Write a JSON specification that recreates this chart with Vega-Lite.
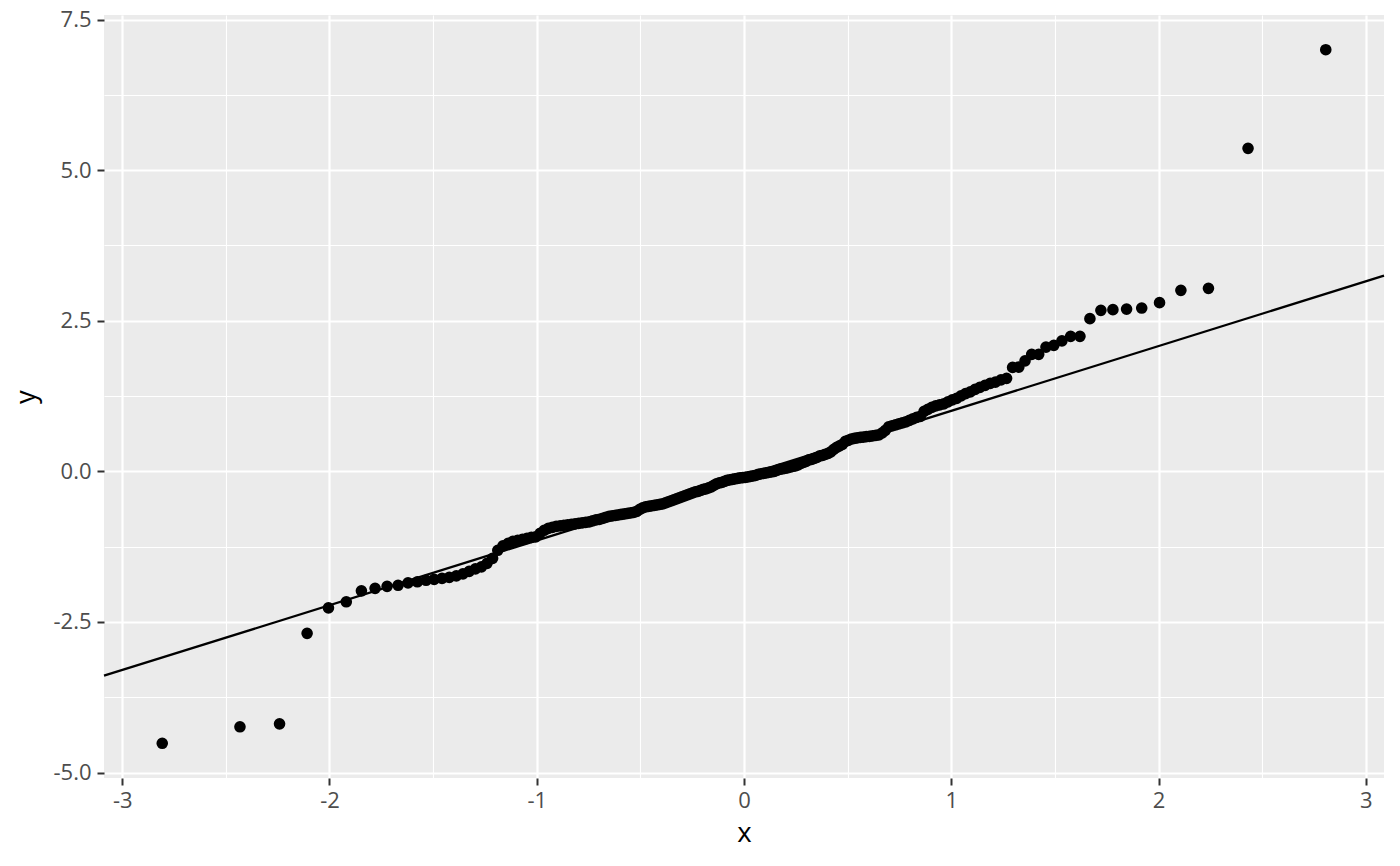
{
  "$schema": "https://vega.github.io/schema/vega-lite/v6.json",
  "width": 1280,
  "height": 763,
  "autosize": {"type": "none"},
  "padding": {"left": 104, "top": 15, "right": 16, "bottom": 88},
  "background": "white",
  "config": {
    "view": {"fill": "#EBEBEB", "stroke": null},
    "axis": {
      "labelFont": "Open Sans",
      "titleFont": "Open Sans",
      "labelFontSize": 22,
      "titleFontSize": 27.5,
      "titleFontWeight": "normal",
      "labelColor": "#4D4D4D",
      "titleColor": "#000000",
      "tickColor": "#333333",
      "tickSize": 7,
      "tickWidth": 2,
      "domain": false,
      "gridColor": "#FFFFFF"
    }
  },
  "datasets": {
    "qq": [
      {"x": -2.807, "y": -4.515}, {"x": -2.432, "y": -4.241}, {"x": -2.241, "y": -4.192}, {"x": -2.108, "y": -2.689},
      {"x": -2.005, "y": -2.266}, {"x": -1.919, "y": -2.166}, {"x": -1.846, "y": -1.984}, {"x": -1.780, "y": -1.942},
      {"x": -1.722, "y": -1.909}, {"x": -1.669, "y": -1.892}, {"x": -1.621, "y": -1.851}, {"x": -1.576, "y": -1.834},
      {"x": -1.534, "y": -1.809}, {"x": -1.495, "y": -1.793}, {"x": -1.457, "y": -1.776}, {"x": -1.422, "y": -1.760},
      {"x": -1.388, "y": -1.735}, {"x": -1.356, "y": -1.702}, {"x": -1.326, "y": -1.660}, {"x": -1.296, "y": -1.619},
      {"x": -1.267, "y": -1.585}, {"x": -1.240, "y": -1.527}, {"x": -1.213, "y": -1.444}, {"x": -1.188, "y": -1.311},
      {"x": -1.163, "y": -1.237}, {"x": -1.138, "y": -1.195}, {"x": -1.115, "y": -1.162}, {"x": -1.092, "y": -1.145},
      {"x": -1.069, "y": -1.129}, {"x": -1.047, "y": -1.112}, {"x": -1.026, "y": -1.096}, {"x": -1.005, "y": -1.087},
      {"x": -0.984, "y": -1.029}, {"x": -0.964, "y": -0.979}, {"x": -0.944, "y": -0.946}, {"x": -0.925, "y": -0.930},
      {"x": -0.906, "y": -0.913}, {"x": -0.887, "y": -0.905}, {"x": -0.869, "y": -0.896}, {"x": -0.851, "y": -0.888},
      {"x": -0.833, "y": -0.880}, {"x": -0.815, "y": -0.872}, {"x": -0.798, "y": -0.863}, {"x": -0.781, "y": -0.855},
      {"x": -0.764, "y": -0.847}, {"x": -0.747, "y": -0.838}, {"x": -0.731, "y": -0.822}, {"x": -0.714, "y": -0.805},
      {"x": -0.698, "y": -0.797}, {"x": -0.682, "y": -0.780}, {"x": -0.667, "y": -0.764}, {"x": -0.651, "y": -0.747},
      {"x": -0.636, "y": -0.739}, {"x": -0.620, "y": -0.730}, {"x": -0.605, "y": -0.722}, {"x": -0.590, "y": -0.714},
      {"x": -0.575, "y": -0.706}, {"x": -0.561, "y": -0.697}, {"x": -0.546, "y": -0.689}, {"x": -0.532, "y": -0.681},
      {"x": -0.517, "y": -0.664}, {"x": -0.503, "y": -0.631}, {"x": -0.489, "y": -0.606}, {"x": -0.475, "y": -0.589},
      {"x": -0.461, "y": -0.581}, {"x": -0.447, "y": -0.573}, {"x": -0.433, "y": -0.564}, {"x": -0.419, "y": -0.556},
      {"x": -0.406, "y": -0.548}, {"x": -0.392, "y": -0.540}, {"x": -0.379, "y": -0.523}, {"x": -0.366, "y": -0.506},
      {"x": -0.352, "y": -0.490}, {"x": -0.339, "y": -0.473}, {"x": -0.326, "y": -0.457}, {"x": -0.313, "y": -0.440},
      {"x": -0.300, "y": -0.423}, {"x": -0.287, "y": -0.407}, {"x": -0.274, "y": -0.390}, {"x": -0.261, "y": -0.374},
      {"x": -0.248, "y": -0.357}, {"x": -0.235, "y": -0.340}, {"x": -0.222, "y": -0.332}, {"x": -0.209, "y": -0.315},
      {"x": -0.196, "y": -0.299}, {"x": -0.184, "y": -0.291}, {"x": -0.171, "y": -0.274}, {"x": -0.158, "y": -0.257},
      {"x": -0.146, "y": -0.232}, {"x": -0.133, "y": -0.208}, {"x": -0.119, "y": -0.191}, {"x": -0.107, "y": -0.183},
      {"x": -0.094, "y": -0.166}, {"x": -0.082, "y": -0.149}, {"x": -0.069, "y": -0.141}, {"x": -0.056, "y": -0.133},
      {"x": -0.044, "y": -0.125}, {"x": -0.031, "y": -0.116}, {"x": -0.019, "y": -0.108}, {"x": -0.006, "y": -0.105},
      {"x": 0.006, "y": -0.100}, {"x": 0.019, "y": -0.091}, {"x": 0.031, "y": -0.083}, {"x": 0.044, "y": -0.075},
      {"x": 0.056, "y": -0.066}, {"x": 0.069, "y": -0.050}, {"x": 0.082, "y": -0.042}, {"x": 0.094, "y": -0.033},
      {"x": 0.107, "y": -0.025}, {"x": 0.119, "y": -0.017}, {"x": 0.133, "y": -0.008}, {"x": 0.146, "y": 0.000},
      {"x": 0.158, "y": 0.017}, {"x": 0.171, "y": 0.033}, {"x": 0.184, "y": 0.041}, {"x": 0.196, "y": 0.050},
      {"x": 0.209, "y": 0.058}, {"x": 0.222, "y": 0.070}, {"x": 0.235, "y": 0.083}, {"x": 0.248, "y": 0.091},
      {"x": 0.261, "y": 0.108}, {"x": 0.274, "y": 0.133}, {"x": 0.287, "y": 0.149}, {"x": 0.300, "y": 0.166},
      {"x": 0.313, "y": 0.191}, {"x": 0.326, "y": 0.199}, {"x": 0.339, "y": 0.216}, {"x": 0.352, "y": 0.232},
      {"x": 0.366, "y": 0.257}, {"x": 0.379, "y": 0.266}, {"x": 0.392, "y": 0.282}, {"x": 0.406, "y": 0.299},
      {"x": 0.419, "y": 0.324}, {"x": 0.433, "y": 0.365}, {"x": 0.447, "y": 0.398}, {"x": 0.461, "y": 0.423},
      {"x": 0.475, "y": 0.448}, {"x": 0.489, "y": 0.498}, {"x": 0.503, "y": 0.515}, {"x": 0.517, "y": 0.536},
      {"x": 0.532, "y": 0.548}, {"x": 0.546, "y": 0.556}, {"x": 0.561, "y": 0.564}, {"x": 0.575, "y": 0.569},
      {"x": 0.590, "y": 0.576}, {"x": 0.605, "y": 0.581}, {"x": 0.620, "y": 0.589}, {"x": 0.636, "y": 0.598},
      {"x": 0.651, "y": 0.606}, {"x": 0.667, "y": 0.639}, {"x": 0.682, "y": 0.681}, {"x": 0.698, "y": 0.739},
      {"x": 0.714, "y": 0.755}, {"x": 0.731, "y": 0.772}, {"x": 0.747, "y": 0.789}, {"x": 0.764, "y": 0.805},
      {"x": 0.781, "y": 0.822}, {"x": 0.798, "y": 0.847}, {"x": 0.815, "y": 0.872}, {"x": 0.833, "y": 0.896},
      {"x": 0.851, "y": 0.913}, {"x": 0.869, "y": 0.996}, {"x": 0.887, "y": 1.029}, {"x": 0.906, "y": 1.062},
      {"x": 0.925, "y": 1.087}, {"x": 0.944, "y": 1.104}, {"x": 0.964, "y": 1.121}, {"x": 0.984, "y": 1.154},
      {"x": 1.005, "y": 1.187}, {"x": 1.026, "y": 1.212}, {"x": 1.047, "y": 1.253}, {"x": 1.069, "y": 1.290},
      {"x": 1.092, "y": 1.320}, {"x": 1.115, "y": 1.361}, {"x": 1.138, "y": 1.394}, {"x": 1.163, "y": 1.428},
      {"x": 1.188, "y": 1.461}, {"x": 1.213, "y": 1.482}, {"x": 1.240, "y": 1.519}, {"x": 1.267, "y": 1.544},
      {"x": 1.296, "y": 1.726}, {"x": 1.326, "y": 1.731}, {"x": 1.356, "y": 1.834}, {"x": 1.388, "y": 1.942},
      {"x": 1.422, "y": 1.942}, {"x": 1.457, "y": 2.063}, {"x": 1.495, "y": 2.092}, {"x": 1.534, "y": 2.166},
      {"x": 1.576, "y": 2.241}, {"x": 1.621, "y": 2.241}, {"x": 1.669, "y": 2.535}, {"x": 1.722, "y": 2.673},
      {"x": 1.780, "y": 2.684}, {"x": 1.846, "y": 2.694}, {"x": 1.919, "y": 2.711}, {"x": 2.005, "y": 2.800},
      {"x": 2.108, "y": 3.005}, {"x": 2.241, "y": 3.038}, {"x": 2.432, "y": 5.362}, {"x": 2.807, "y": 7.000}
    ],
    "qqline": [
      {"x": -3.088, "y": -3.393},
      {"x": 3.088, "y": 3.249}
    ]
  },
  "resolve": {"axis": {"x": "independent", "y": "independent"}},
  "layer": [
    {
      "data": {"name": "qq"},
      "mark": {"type": "circle", "opacity": 0},
      "encoding": {
        "x": {
          "field": "x", "type": "quantitative",
          "scale": {"domain": [-3.088, 3.088], "nice": false, "zero": false},
          "axis": {"orient": "top", "values": [-2.5, -1.5, -0.5, 0.5, 1.5, 2.5], "grid": true, "gridWidth": 1.1, "ticks": false, "labels": false, "domain": false, "title": null}
        },
        "y": {
          "field": "y", "type": "quantitative",
          "scale": {"domain": [-5.091, 7.576], "nice": false, "zero": false},
          "axis": {"orient": "right", "values": [-3.75, -1.25, 1.25, 3.75, 6.25], "grid": true, "gridWidth": 1.1, "ticks": false, "labels": false, "domain": false, "title": null}
        }
      }
    },
    {
      "data": {"name": "qqline"},
      "mark": {"type": "line", "color": "#000000", "strokeWidth": 2.3},
      "encoding": {
        "x": {"field": "x", "type": "quantitative", "axis": null},
        "y": {"field": "y", "type": "quantitative", "axis": null}
      }
    },
    {
      "data": {"name": "qq"},
      "mark": {"type": "circle", "size": 135, "color": "#000000", "opacity": 1},
      "encoding": {
        "x": {
          "field": "x", "type": "quantitative", "title": "x",
          "axis": {"orient": "bottom", "values": [-3, -2, -1, 0, 1, 2, 3], "grid": true, "gridWidth": 2.2, "labelPadding": 5, "titlePadding": 8, "labelExpr": "replace(format(datum.value, 'd'), '\u2212', '-')"}
        },
        "y": {
          "field": "y", "type": "quantitative", "title": "y",
          "axis": {"orient": "left", "values": [-5, -2.5, 0, 2.5, 5, 7.5], "grid": true, "gridWidth": 2.2, "labelPadding": 6, "titlePadding": 12, "labelExpr": "replace(format(datum.value, '.1f'), '\u2212', '-')"}
        }
      }
    }
  ]
}
